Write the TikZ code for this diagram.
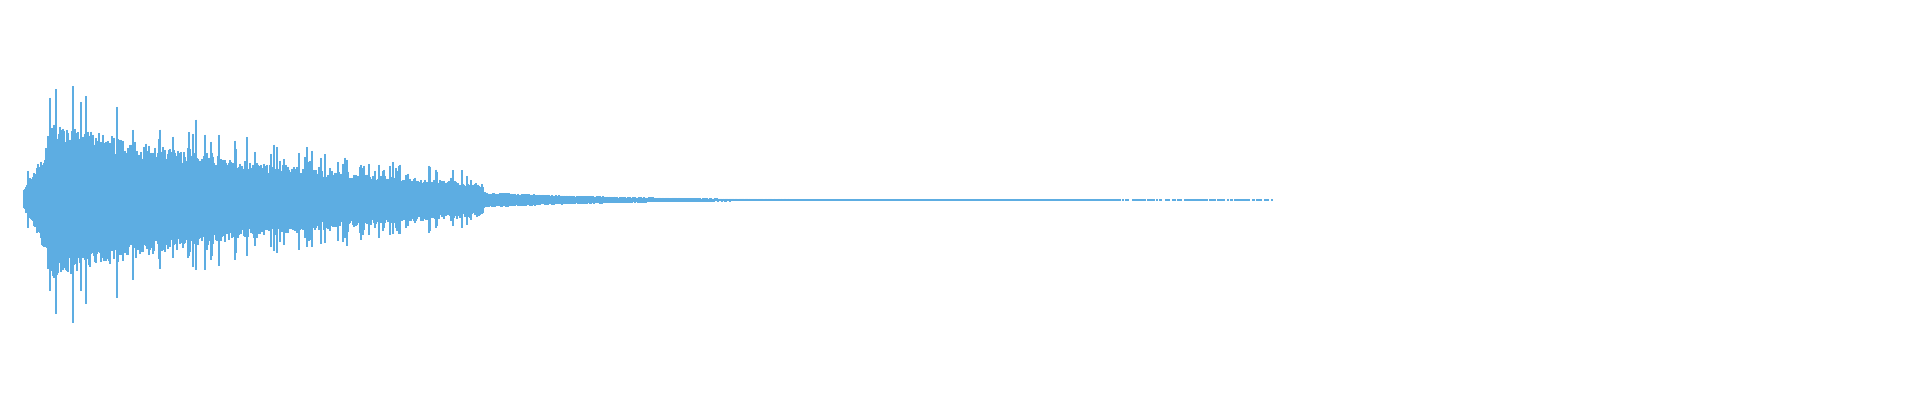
\documentclass[tikz,border=0pt]{standalone}
\definecolor{wave}{RGB}{93,173,226}
\begin{document}
\begin{tikzpicture}[x=0.5pt,y=0.5pt,bar/.style={wave,line width=0.55pt}]
\fill[white] (0,0) rectangle (1920,400);
\useasboundingbox (0,0) rectangle (1920,400);
\pgfmathsetseed{11}
\foreach \i in {24,...,1272}{
  \ifnum\i<50
    \pgfmathsetmacro\env{10+52*(\i-24)/26}
  \else\ifnum\i<484
    \pgfmathsetmacro\env{62*exp(-(\i-120)/280)}
  \else
    \pgfmathsetmacro\env{max(0.9,8*exp(-(\i-484)/150))}
  \fi\fi
  \pgfmathsetmacro\ra{rnd}
  \pgfmathsetmacro\sp{0}
  \ifnum\i<484 \ifdim\ra pt>0.8pt \pgfmathsetmacro\sp{0.15+0.6*rnd}\fi\fi
  \pgfmathsetmacro\up{\env*(0.72+0.28*rnd+\sp)}
  \pgfmathsetmacro\dn{\env*(0.72+0.28*rnd+\sp)}
  \pgfmathsetmacro\rb{rnd}
  \ifnum\i>1120 \ifdim\rb pt<0.45pt \pgfmathsetmacro\up{-1}\fi\fi
  \ifdim\up pt>0pt
    \draw[bar] (\i,200+\up) -- (\i,200-\dn);
  \fi
}
\end{tikzpicture}
\end{document}
